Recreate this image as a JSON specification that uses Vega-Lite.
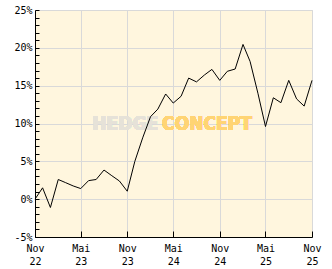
{
  "$schema": "https://vega.github.io/schema/vega-lite/v6.json",
  "width": 277,
  "height": 227,
  "autosize": {"type": "none"},
  "padding": {"left": 35, "top": 10, "right": 20, "bottom": 32},
  "background": "#ffffff",
  "config": {
    "view": {"fill": "#FFF6DE", "stroke": "#D9D9D9"}
  },
  "data": {
    "values": [
      {"date": "2022-11-01", "perf": 0.0},
      {"date": "2022-12-01", "perf": 1.5},
      {"date": "2023-01-01", "perf": -1.1},
      {"date": "2023-02-01", "perf": 2.6},
      {"date": "2023-03-01", "perf": 2.2},
      {"date": "2023-04-01", "perf": 1.75},
      {"date": "2023-05-01", "perf": 1.4},
      {"date": "2023-06-01", "perf": 2.45},
      {"date": "2023-07-01", "perf": 2.6},
      {"date": "2023-08-01", "perf": 3.85},
      {"date": "2023-09-01", "perf": 3.1},
      {"date": "2023-10-01", "perf": 2.4},
      {"date": "2023-11-01", "perf": 1.05},
      {"date": "2023-12-01", "perf": 5.0},
      {"date": "2024-01-01", "perf": 8.1},
      {"date": "2024-02-01", "perf": 10.9},
      {"date": "2024-03-01", "perf": 11.9},
      {"date": "2024-04-01", "perf": 13.9},
      {"date": "2024-05-01", "perf": 12.7},
      {"date": "2024-06-01", "perf": 13.6},
      {"date": "2024-07-01", "perf": 16.0},
      {"date": "2024-08-01", "perf": 15.5},
      {"date": "2024-09-01", "perf": 16.4},
      {"date": "2024-10-01", "perf": 17.15},
      {"date": "2024-11-01", "perf": 15.7},
      {"date": "2024-12-01", "perf": 16.9},
      {"date": "2025-01-01", "perf": 17.2},
      {"date": "2025-02-01", "perf": 20.45},
      {"date": "2025-03-01", "perf": 18.2},
      {"date": "2025-04-01", "perf": 14.0},
      {"date": "2025-05-01", "perf": 9.6},
      {"date": "2025-06-01", "perf": 13.4},
      {"date": "2025-07-01", "perf": 12.75},
      {"date": "2025-08-01", "perf": 15.7},
      {"date": "2025-09-01", "perf": 13.25},
      {"date": "2025-10-01", "perf": 12.3},
      {"date": "2025-11-01", "perf": 15.7}
    ]
  },
  "layer": [
    {
      "mark": {"type": "text", "text": "HEDGE", "align": "right", "baseline": "middle", "dx": -2, "font": "'Liberation Sans Narrow', 'DejaVu Sans Condensed', 'Roboto Condensed', Roboto, sans-serif", "fontWeight": "bold", "fontSize": 19, "color": "#E6E2D8"},
      "encoding": {
        "x": {"datum": {"year": 2024, "month": 3, "date": 10, "utc": true}, "type": "temporal"},
        "y": {"datum": 10, "type": "quantitative"}
      }
    },
    {
      "mark": {"type": "text", "text": "CONCEPT", "align": "left", "baseline": "middle", "dx": 2, "font": "'Liberation Sans Narrow', 'DejaVu Sans Condensed', 'Roboto Condensed', Roboto, sans-serif", "fontWeight": "bold", "fontSize": 19, "color": "#FFD474"},
      "encoding": {
        "x": {"datum": {"year": 2024, "month": 3, "date": 10, "utc": true}, "type": "temporal"},
        "y": {"datum": 10, "type": "quantitative"}
      }
    },
    {
      "mark": {"type": "line", "color": "#000000", "strokeWidth": 1},
      "encoding": {
        "x": {
          "field": "date",
          "type": "temporal",
          "title": null,
          "scale": {"type": "utc", "domain": [{"year": 2022, "month": 11, "date": 1, "utc": true}, {"year": 2025, "month": 11, "date": 1, "utc": true}], "nice": false},
          "axis": {
            "values": [
              {"year": 2022, "month": 11, "date": 1, "utc": true},
              {"year": 2023, "month": 5, "date": 1, "utc": true},
              {"year": 2023, "month": 11, "date": 1, "utc": true},
              {"year": 2024, "month": 5, "date": 1, "utc": true},
              {"year": 2024, "month": 11, "date": 1, "utc": true},
              {"year": 2025, "month": 5, "date": 1, "utc": true},
              {"year": 2025, "month": 11, "date": 1, "utc": true}
            ],
            "tickCount": 20,
            "labelExpr": "[utcFormat(datum.value, '%m') == '05' ? 'Mai' : 'Nov', utcFormat(datum.value, '%y')]",
            "labelFont": "DejaVu Sans Mono",
            "labelFontSize": 10,
            "labelColor": "#000000",
            "labelLineHeight": 13,
            "labelBaseline": "top",
            "labelFlush": false,
            "labelOverlap": false,
            "labelPadding": 12,
            "tickSize": -6,
            "tickColor": "#000000",
            "domainColor": "#000000",
            "grid": true,
            "gridColor": "#D9D9D9"
          }
        },
        "y": {
          "field": "perf",
          "type": "quantitative",
          "title": null,
          "scale": {"domain": [-5, 25], "nice": false, "zero": false},
          "axis": {
            "values": [-5, -4, -3, -2, -1, 0, 1, 2, 3, 4, 5, 6, 7, 8, 9, 10, 11, 12, 13, 14, 15, 16, 17, 18, 19, 20, 21, 22, 23, 24, 25],
            "tickCount": 40,
            "labelExpr": "datum.value % 5 == 0 ? datum.value + '%' : ''",
            "labelFont": "DejaVu Sans Mono",
            "labelFontSize": 10,
            "labelColor": "#000000",
            "labelFlush": false,
            "labelOverlap": false,
            "labelPadding": 7,
            "tickSize": -4,
            "tickColor": "#000000",
            "domainColor": "#000000",
            "grid": true,
            "gridColor": "#D9D9D9",
            "gridOpacity": {"condition": {"test": "datum.value % 5 != 0", "value": 0}, "value": 1}
          }
        }
      }
    }
  ]
}
